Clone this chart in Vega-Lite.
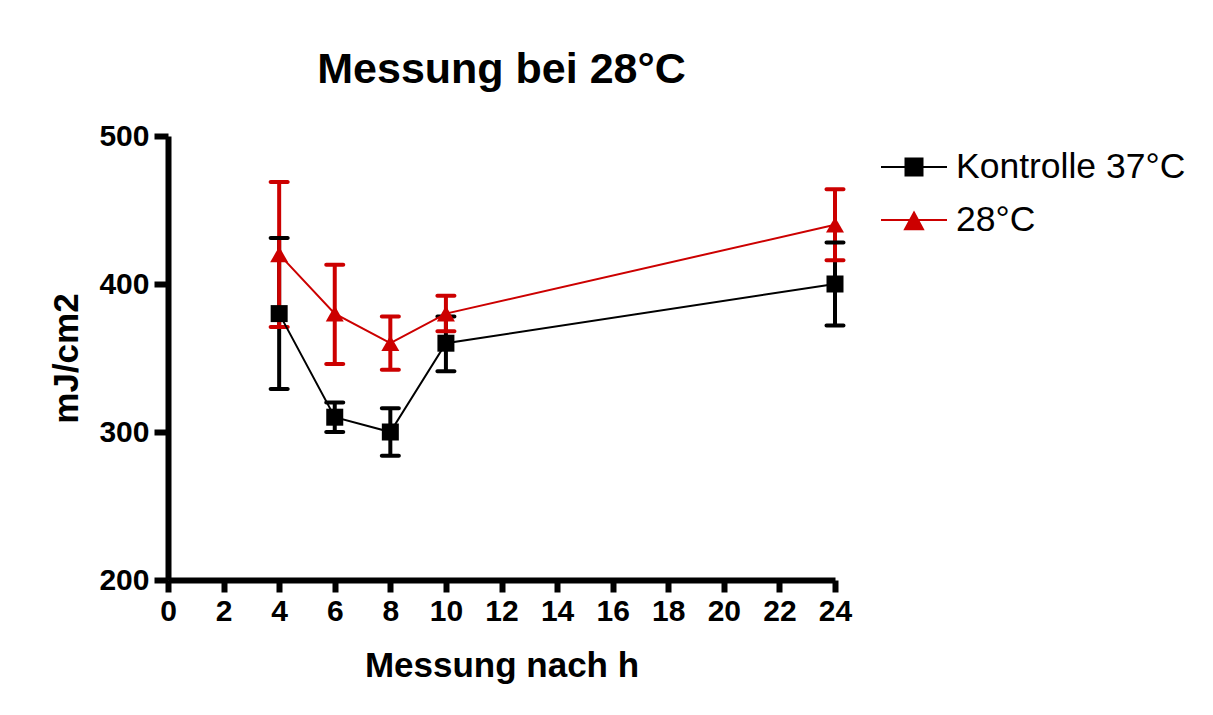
{
  "$schema": "https://vega.github.io/schema/vega-lite/v6.json",
  "width": 667,
  "height": 444,
  "autosize": {"type": "none"},
  "padding": {"left": 168, "top": 136, "right": 378, "bottom": 135},
  "background": "white",
  "title": {"text": "Messung bei 28°C", "fontSize": 43, "font": "Liberation Sans", "fontWeight": "bold", "anchor": "middle", "offset": 29, "color": "black"},
  "data": {"values": [
    {"group": "Kontrolle 37°C", "h": 4, "mean": 380, "lo": 329, "hi": 431},
    {"group": "Kontrolle 37°C", "h": 6, "mean": 310, "lo": 300, "hi": 320},
    {"group": "Kontrolle 37°C", "h": 8, "mean": 300, "lo": 284, "hi": 316},
    {"group": "Kontrolle 37°C", "h": 10, "mean": 360, "lo": 341, "hi": 378},
    {"group": "Kontrolle 37°C", "h": 24, "mean": 400, "lo": 372, "hi": 428},
    {"group": "28°C", "h": 4, "mean": 420, "lo": 371, "hi": 469},
    {"group": "28°C", "h": 6, "mean": 380, "lo": 346, "hi": 413},
    {"group": "28°C", "h": 8, "mean": 360, "lo": 342, "hi": 378},
    {"group": "28°C", "h": 10, "mean": 380, "lo": 368, "hi": 392},
    {"group": "28°C", "h": 24, "mean": 440, "lo": 416, "hi": 464}
  ]},
  "encoding": {
    "x": {"field": "h", "type": "quantitative", "title": "Messung nach h",
      "scale": {"domain": [0, 24], "nice": false},
      "axis": {"values": [0, 2, 4, 6, 8, 10, 12, 14, 16, 18, 20, 22, 24], "tickSize": 12, "labelPadding": 4, "titlePadding": 22, "labelFlush": false, "labelOverlap": false}},
    "color": {"field": "group", "type": "nominal",
      "scale": {"domain": ["Kontrolle 37°C", "28°C"], "range": ["#000000", "#cc0000"]},
      "legend": {"title": null}}
  },
  "layer": [
    {"transform": [{"filter": "datum.h > 100"}],
     "mark": {"type": "point", "filled": true, "opacity": 1, "size": 2500, "strokeWidth": 2},
     "encoding": {
       "y": {"field": "mean", "type": "quantitative", "title": "mJ/cm2", "scale": {"domain": [200, 500], "nice": false}},
       "stroke": {"field": "group", "type": "nominal", "scale": {"domain": ["Kontrolle 37°C", "28°C"], "range": ["#000000", "#cc0000"]}, "legend": {"title": null}},
       "shape": {"field": "group", "type": "nominal", "scale": {"domain": ["Kontrolle 37°C", "28°C"], "range": ["M-1.32,0H1.32M-0.34,-0.34H0.34V0.34H-0.34Z", "M-1.32,0H1.32M0,-0.3L0.36,0.37H-0.36Z"]}, "legend": {"title": null}}
     }},
    {"mark": {"type": "rule", "strokeWidth": 4},
     "encoding": {"y": {"field": "lo", "type": "quantitative", "title": "mJ/cm2"}, "y2": {"field": "hi"}}},
    {"mark": {"type": "tick", "orient": "horizontal", "size": 21, "thickness": 4, "cornerRadius": 2, "opacity": 1},
     "encoding": {"y": {"field": "lo", "type": "quantitative", "title": "mJ/cm2"}}},
    {"mark": {"type": "tick", "orient": "horizontal", "size": 21, "thickness": 4, "cornerRadius": 2, "opacity": 1},
     "encoding": {"y": {"field": "hi", "type": "quantitative", "title": "mJ/cm2"}}},
    {"mark": {"type": "line", "strokeWidth": 2},
     "encoding": {"y": {"field": "mean", "type": "quantitative", "title": "mJ/cm2"}}},
    {"transform": [{"filter": "datum.group === 'Kontrolle 37°C'"}],
     "mark": {"type": "point", "filled": true, "opacity": 1, "size": 289, "shape": "square"},
     "encoding": {"y": {"field": "mean", "type": "quantitative", "title": "mJ/cm2"}}},
    {"transform": [{"filter": "datum.group === '28°C'"}],
     "mark": {"type": "point", "filled": true, "opacity": 1, "size": 324, "shape": "triangle-up"},
     "encoding": {"y": {"field": "mean", "type": "quantitative", "title": "mJ/cm2"}}}
  ],
  "config": {
    "view": {"stroke": null},
    "axis": {"domainColor": "black", "domainWidth": 6, "tickColor": "black", "tickWidth": 6, "grid": false,
      "labelFont": "Liberation Sans", "labelFontWeight": "bold", "labelFontSize": 30, "labelColor": "black",
      "titleFont": "Liberation Sans", "titleFontWeight": "bold", "titleFontSize": 35, "titleColor": "black"},
    "axisY": {"tickCount": 3, "tickSize": 14, "labelPadding": 5, "titlePadding": 14, "labelOverlap": false, "labelFlush": false},
    "legend": {"orient": "none", "legendX": 720, "legendY": 5, "labelFontSize": 35.5, "labelFont": "Liberation Sans", "labelColor": "black", "labelOffset": 16, "labelLimit": 400, "rowPadding": 8, "symbolSize": 2500, "symbolStrokeWidth": 2, "symbolOpacity": 1}
  }
}
